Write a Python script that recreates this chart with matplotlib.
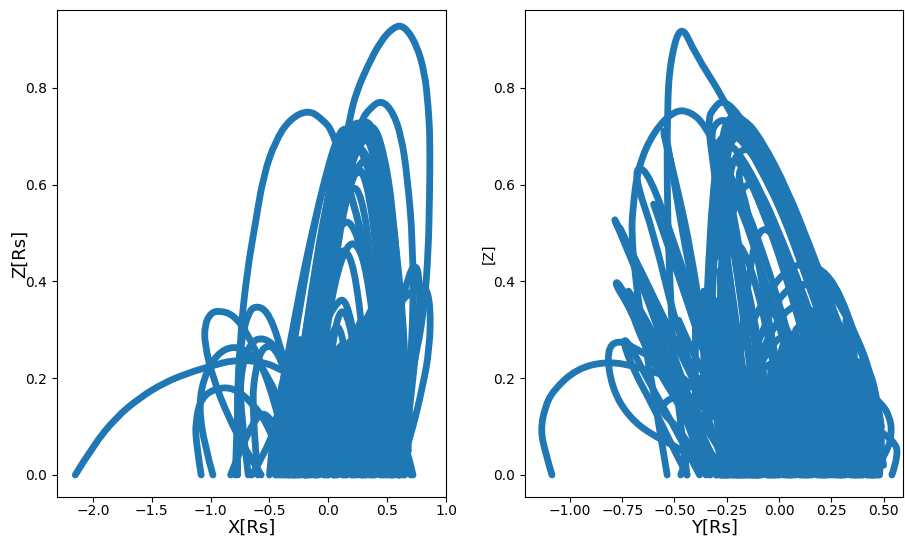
import matplotlib
matplotlib.use('Agg')
import matplotlib.pyplot as plt
from matplotlib.path import Path
from matplotlib.patches import PathPatch

#-------------------------------------------------------------------------------
#INPUT

#field lines, left panel: X[Rs] against Z[Rs]
left_x = [
    [-0.45,-0.3,-0.2,-0.1,0.0,0.1,0.19,0.245,0.33,0.44,0.55,0.64,0.75,0.82,0.85,0.865,0.86,0.85,0.82,0.76,0.65,0.5],
    [-2.15,-2.0,-1.8,-1.6,-1.4,-1.2,-1.0,-0.8,-0.6,-0.45,-0.35],
    [-0.79,-0.77,-0.75,-0.69,-0.62,-0.55,-0.45,-0.33,-0.17,-0.05,0.04,0.2,0.35,0.5,0.58],
    [-0.3,-0.15,0.0,0.12,0.27,0.36,0.455,0.55,0.62,0.67,0.72,0.72,0.68],
    [-0.35,-0.2,-0.05,0.05,0.15,0.22,0.32,0.42,0.5,0.56,0.6,0.6],
    [-0.3,-0.15,0.0,0.1,0.2,0.32,0.42,0.5,0.58,0.64,0.65],
    [-0.25,-0.1,0.02,0.12,0.25,0.38,0.47,0.55,0.62,0.66,0.64],
    [-0.22,-0.08,0.05,0.15,0.25,0.35,0.45,0.52,0.58,0.6,0.58],
    [-0.2,-0.05,0.08,0.18,0.3,0.4,0.47,0.53,0.56,0.54],
    [-0.28,-0.15,-0.02,0.1,0.2,0.3,0.4,0.48,0.53,0.55],
    [-0.38,-0.25,-0.1,0.0,0.05,0.12,0.22,0.32,0.42,0.5,0.54],
    [-0.3,-0.2,-0.1,0.0,0.1,0.2,0.3,0.38,0.44,0.47],
    [-0.15,-0.03,0.08,0.2,0.3,0.38,0.46,0.5,0.5],
    [-0.33,-0.22,-0.1,0.0,0.06,0.14,0.22,0.3,0.35,0.37],
    [-0.38,-0.3,-0.18,-0.05,0.05,0.15,0.25,0.3,0.32],
    [0.2,0.3,0.42,0.55,0.66,0.75,0.82,0.87,0.86,0.8,0.7,0.6],
    [0.3,0.42,0.55,0.62,0.68,0.73,0.77,0.78,0.72,0.65],
    [-0.1,-0.03,0.05,0.12,0.2,0.25,0.28],
    [-0.2,-0.1,0.0,0.07,0.14,0.22,0.26],
    [-0.98,-1.05,-1.1,-1.06,-0.95,-0.8,-0.65,-0.5,-0.4,-0.33,-0.28],
    [-1.08,-1.12,-1.13,-1.08,-0.95,-0.8,-0.65,-0.5,-0.38],
    [-0.57,-0.7,-0.85,-0.98,-1.05,-1.05,-1.0,-0.92,-0.8,-0.68,-0.55,-0.42,-0.3],
    [-0.77,-0.78,-0.74,-0.68,-0.62,-0.52,-0.42,-0.32,-0.25,-0.18],
    [-0.68,-0.75,-0.74,-0.66,-0.55,-0.42,-0.3,-0.2,-0.12],
    [-0.6,-0.65,-0.62,-0.55,-0.43,-0.3,-0.22,-0.15],
    [-0.83,-0.7,-0.58,-0.5,-0.4,-0.3,-0.2],
    [-0.65,-0.55,-0.45,-0.3,-0.2,-0.1,0.0],
    [-0.32,-0.2,-0.08,0.02,0.1,0.18,0.26,0.34,0.42,0.5,0.56,0.6,0.62],
    [-0.28,-0.16,-0.05,0.05,0.13,0.22,0.3,0.38,0.46,0.52,0.57,0.59],
    [-0.25,-0.12,-0.01,0.08,0.16,0.25,0.34,0.42,0.48,0.53,0.55],
    [-0.18,-0.08,0.02,0.1,0.18,0.27,0.35,0.42,0.47,0.5],
    [-0.14,-0.05,0.04,0.12,0.2,0.28,0.36,0.42,0.46],
    [-0.34,-0.22,-0.1,0.0,0.08,0.14,0.22,0.3,0.38,0.5,0.6],
    [-0.38,-0.26,-0.14,-0.04,0.05,0.14,0.24,0.38,0.52,0.62],
    [0.22,0.3,0.38,0.46,0.52,0.58,0.63,0.66,0.68],
    [0.28,0.36,0.44,0.5,0.56,0.6,0.64,0.66],
    [0.3,0.4,0.47,0.53,0.58,0.62,0.64],
    [0.05,0.15,0.25,0.35,0.45,0.55,0.62,0.68,0.7,0.6],
    [0.35,0.48,0.55,0.6,0.66,0.72],
]
left_z = [
    [0.0,0.06,0.2,0.35,0.5,0.63,0.748,0.795,0.843,0.895,0.925,0.93,0.89,0.83,0.76,0.69,0.57,0.465,0.36,0.26,0.155,0.0],
    [0.0,0.06,0.12,0.16,0.19,0.21,0.225,0.238,0.235,0.225,0.21],
    [0.0,0.14,0.285,0.42,0.52,0.62,0.69,0.735,0.755,0.735,0.71,0.58,0.42,0.22,0.04],
    [0.0,0.2,0.42,0.58,0.73,0.76,0.775,0.75,0.7,0.62,0.48,0.3,0.15],
    [0.0,0.2,0.42,0.56,0.68,0.72,0.735,0.7,0.6,0.45,0.2,0.0],
    [0.0,0.2,0.45,0.58,0.68,0.73,0.7,0.6,0.42,0.2,0.0],
    [0.0,0.22,0.45,0.6,0.7,0.73,0.67,0.55,0.32,0.1,0.0],
    [0.0,0.25,0.48,0.6,0.68,0.7,0.63,0.5,0.32,0.1,0.0],
    [0.0,0.25,0.48,0.6,0.66,0.63,0.54,0.38,0.2,0.0],
    [0.0,0.2,0.42,0.56,0.62,0.63,0.58,0.42,0.22,0.05],
    [0.0,0.2,0.45,0.58,0.63,0.62,0.56,0.46,0.3,0.15,0.0],
    [0.0,0.15,0.33,0.44,0.52,0.525,0.45,0.33,0.18,0.02],
    [0.05,0.28,0.43,0.49,0.45,0.36,0.2,0.08,0.0],
    [0.0,0.15,0.3,0.39,0.45,0.47,0.43,0.28,0.12,0.0],
    [0.0,0.1,0.22,0.3,0.35,0.37,0.25,0.1,0.0],
    [0.0,0.1,0.22,0.34,0.37,0.385,0.395,0.35,0.26,0.18,0.08,0.0],
    [0.0,0.14,0.28,0.35,0.41,0.435,0.42,0.34,0.2,0.05],
    [0.0,0.14,0.3,0.35,0.3,0.18,0.0],
    [0.0,0.14,0.26,0.32,0.27,0.12,0.0],
    [0.0,0.06,0.14,0.2,0.25,0.268,0.25,0.2,0.14,0.06,0.0],
    [0.0,0.06,0.11,0.16,0.18,0.18,0.15,0.1,0.02],
    [0.0,0.05,0.12,0.2,0.27,0.31,0.335,0.34,0.33,0.29,0.22,0.12,0.0],
    [0.0,0.16,0.28,0.335,0.35,0.34,0.28,0.18,0.08,0.0],
    [0.0,0.14,0.22,0.275,0.285,0.26,0.18,0.08,0.0],
    [0.0,0.14,0.22,0.27,0.26,0.16,0.07,0.0],
    [0.0,0.08,0.13,0.12,0.08,0.04,0.0],
    [0.0,0.04,0.1,0.16,0.13,0.06,0.0],
    [0.1,0.28,0.47,0.6,0.68,0.72,0.73,0.72,0.67,0.55,0.38,0.2,0.05],
    [0.1,0.3,0.48,0.6,0.67,0.71,0.71,0.67,0.56,0.42,0.22,0.05],
    [0.1,0.33,0.5,0.61,0.66,0.68,0.65,0.54,0.42,0.24,0.05],
    [0.14,0.33,0.5,0.59,0.63,0.64,0.58,0.44,0.28,0.08],
    [0.14,0.34,0.48,0.56,0.6,0.58,0.46,0.28,0.08],
    [0.2,0.38,0.54,0.64,0.7,0.72,0.7,0.66,0.6,0.42,0.15],
    [0.2,0.36,0.5,0.6,0.66,0.68,0.69,0.64,0.44,0.15],
    [0.72,0.735,0.72,0.66,0.58,0.46,0.34,0.2,0.05],
    [0.72,0.72,0.65,0.56,0.44,0.34,0.2,0.05],
    [0.7,0.69,0.6,0.48,0.34,0.2,0.05],
    [0.0,0.1,0.2,0.27,0.28,0.26,0.22,0.16,0.08,0.0],
    [0.0,0.06,0.1,0.1,0.06,0.0],
]

#field lines, right panel: Y[Rs] against Z
right_y = [
    [-0.44,-0.5,-0.52,-0.535,-0.535,-0.52,-0.47,-0.4,-0.268,-0.15,0.0,0.12,0.25,0.35,0.42],
    [-0.535,-0.6,-0.66,-0.69,-0.705,-0.70,-0.675,-0.6,-0.497,-0.42,-0.354,-0.27,-0.15,0.0,0.1,0.25],
    [-0.25,-0.4,-0.5,-0.6,-0.68,-0.68,-0.62,-0.5,-0.35,-0.2,-0.1],
    [-0.3,-0.4,-0.5,-0.555,-0.545,-0.5,-0.42,-0.3,-0.2],
    [-0.15,-0.25,-0.3,-0.344,-0.31,-0.268,-0.2,-0.1,0.0,0.1,0.22,0.354,0.45,0.49],
    [-0.1,-0.2,-0.28,-0.33,-0.3,-0.25,-0.17,-0.05,0.08,0.2,0.32,0.42,0.47],
    [-0.05,-0.15,-0.25,-0.3,-0.27,-0.22,-0.12,0.0,0.12,0.25,0.38,0.44],
    [-0.1,-0.18,-0.25,-0.28,-0.25,-0.18,-0.08,0.05,0.18,0.3,0.4],
    [-0.05,-0.15,-0.22,-0.26,-0.22,-0.15,-0.05,0.05,0.15,0.26,0.35],
    [0.0,-0.08,-0.15,-0.2,-0.17,-0.08,0.02,0.12,0.22,0.3],
    [0.0,-0.1,-0.2,-0.28,-0.3,-0.26,-0.18,-0.08,0.02,0.12,0.22],
    [-0.33,-0.4,-0.5,-0.6,-0.7,-0.785],
    [-0.3,-0.38,-0.48,-0.58,-0.68,-0.77,-0.785],
    [-0.35,-0.43,-0.52,-0.62,-0.72,-0.785,-0.77,-0.68,-0.58,-0.48,-0.38,-0.3],
    [-0.28,-0.36,-0.44,-0.55,-0.65,-0.74,-0.78,-0.7,-0.6,-0.5,-0.42],
    [-0.1,-0.2,-0.34,-0.45,-0.6,-0.72,-0.8,-0.825,-0.77,-0.68,-0.58,-0.48,-0.35],
    [-1.086,-1.12,-1.14,-1.12,-1.08,-0.967,-0.82,-0.68,-0.507,-0.4,-0.3,-0.2],
    [-0.33,-0.41,-0.488,-0.55,-0.565,-0.52,-0.45,-0.35,-0.25,-0.12],
    [-0.26,-0.33,-0.45,-0.56,-0.68,-0.74,-0.66,-0.55,-0.43,-0.3,-0.2,-0.1],
    [-0.44,-0.5,-0.6,-0.7,-0.75,-0.72,-0.62,-0.5,-0.38],
    [0.54,0.575,0.545,0.45,0.35,0.2,0.1],
    [0.45,0.52,0.54,0.53,0.49,0.4,0.3,0.15],
    [-0.3,-0.26,-0.17,-0.05,0.05,0.15,0.27,0.38,0.46,0.5,0.48],
    [-0.25,-0.2,-0.1,0.0,0.1,0.2,0.3,0.37,0.43,0.45],
    [-0.22,-0.15,-0.05,0.05,0.15,0.25,0.33,0.4,0.43],
    [-0.32,-0.28,-0.234,-0.17,-0.1,-0.05,0.02,0.1],
    [-0.05,0.02,0.1,0.2,0.3,0.4,0.45,0.48,0.47],
    [-0.13,-0.06,0.03,0.13,0.22,0.3,0.36,0.42],
    [-0.22,-0.18,-0.1,-0.02,0.08,0.18,0.25,0.3],
    [-0.3,-0.27,-0.22,-0.15,-0.05,0.05,0.15,0.25,0.33,0.4,0.46],
    [-0.32,-0.28,-0.22,-0.14,-0.04,0.07,0.17,0.27,0.36,0.42],
    [-0.3,-0.26,-0.2,-0.12,-0.02,0.1,0.2,0.3,0.38],
    [-0.28,-0.25,-0.18,-0.1,0.0,0.12,0.22,0.32,0.4],
    [-0.33,-0.3,-0.24,-0.17,-0.08,0.04,0.16,0.28,0.38,0.46],
    [-0.36,-0.33,-0.28,-0.22,-0.14,-0.02,0.1,0.24,0.36,0.44],
    [-0.3,-0.25,-0.18,-0.1,0.0,0.1,0.2,0.3],
    [-0.2,-0.14,-0.08,0.0,0.1,0.2,0.28],
    [-0.78,-0.68,-0.58,-0.5,-0.42,-0.34],
    [-0.76,-0.66,-0.56,-0.46,-0.38],
    [-0.6,-0.52,-0.44,-0.36,-0.28],
    [-0.55,-0.47,-0.4,-0.32,-0.24],
    [-0.75,-0.65,-0.55,-0.45,-0.38],
    [-0.72,-0.62,-0.52,-0.44,-0.36],
    [-0.5,-0.44,-0.38,-0.32,-0.26],
    [-0.48,-0.42,-0.35,-0.28,-0.22],
    [-0.45,-0.38,-0.32,-0.26,-0.2],
    [-0.47,-0.43,-0.38,-0.33,-0.28],
]
right_z = [
    [0.0,0.2,0.38,0.55,0.76,0.857,0.935,0.87,0.78,0.68,0.56,0.42,0.26,0.13,0.05],
    [0.0,0.17,0.32,0.42,0.5,0.548,0.636,0.71,0.755,0.75,0.723,0.65,0.55,0.36,0.2,0.0],
    [0.0,0.2,0.32,0.5,0.6,0.64,0.62,0.48,0.28,0.1,0.0],
    [0.12,0.42,0.62,0.707,0.715,0.6,0.4,0.2,0.05],
    [0.0,0.35,0.6,0.733,0.76,0.775,0.75,0.68,0.58,0.5,0.4,0.306,0.2,0.1],
    [0.0,0.3,0.55,0.7,0.73,0.735,0.7,0.62,0.5,0.4,0.28,0.15,0.02],
    [0.0,0.28,0.55,0.68,0.7,0.71,0.66,0.58,0.46,0.33,0.15,0.02],
    [0.1,0.35,0.58,0.65,0.69,0.66,0.58,0.45,0.3,0.15,0.0],
    [0.1,0.36,0.55,0.62,0.66,0.62,0.52,0.4,0.25,0.1,0.0],
    [0.2,0.4,0.55,0.62,0.64,0.55,0.43,0.28,0.15,0.02],
    [0.0,0.3,0.47,0.55,0.6,0.62,0.55,0.42,0.28,0.14,0.0],
    [0.0,0.08,0.2,0.33,0.44,0.527],
    [0.0,0.1,0.22,0.34,0.44,0.515,0.527],
    [0.0,0.1,0.2,0.28,0.35,0.395,0.4,0.33,0.25,0.17,0.08,0.0],
    [0.0,0.08,0.15,0.23,0.31,0.37,0.4,0.33,0.25,0.16,0.1],
    [0.0,0.0,0.0,0.05,0.08,0.12,0.18,0.258,0.28,0.26,0.235,0.21,0.16],
    [0.0,0.05,0.093,0.14,0.175,0.22,0.235,0.224,0.2,0.18,0.14,0.08],
    [0.0,0.05,0.1,0.125,0.14,0.16,0.16,0.15,0.12,0.04],
    [0.0,0.05,0.13,0.2,0.3,0.395,0.34,0.25,0.16,0.06,0.0,0.0],
    [0.0,0.05,0.14,0.22,0.28,0.275,0.19,0.1,0.0],
    [0.0,0.045,0.072,0.1,0.11,0.14,0.16],
    [0.0,0.05,0.087,0.12,0.149,0.18,0.2,0.22],
    [0.0,0.15,0.28,0.38,0.43,0.44,0.4,0.27,0.17,0.08,0.0],
    [0.0,0.14,0.28,0.37,0.4,0.38,0.3,0.2,0.1,0.0],
    [0.05,0.18,0.29,0.35,0.35,0.28,0.17,0.06,0.0],
    [0.2,0.38,0.49,0.47,0.38,0.28,0.12,0.0],
    [0.0,0.14,0.2,0.23,0.24,0.235,0.2,0.12,0.02],
    [0.0,0.12,0.2,0.24,0.24,0.2,0.12,0.0],
    [0.0,0.14,0.22,0.28,0.3,0.22,0.12,0.0],
    [0.6,0.72,0.745,0.73,0.65,0.55,0.43,0.32,0.22,0.12,0.02],
    [0.5,0.68,0.735,0.72,0.63,0.52,0.4,0.27,0.14,0.02],
    [0.45,0.66,0.71,0.68,0.6,0.47,0.34,0.2,0.04],
    [0.4,0.62,0.68,0.66,0.58,0.44,0.32,0.16,0.02],
    [0.25,0.6,0.72,0.74,0.69,0.59,0.46,0.32,0.18,0.05],
    [0.2,0.55,0.69,0.73,0.71,0.62,0.5,0.34,0.18,0.04],
    [0.2,0.5,0.6,0.6,0.5,0.38,0.25,0.08],
    [0.2,0.45,0.52,0.48,0.36,0.22,0.08],
    [0.52,0.44,0.35,0.28,0.22,0.14],
    [0.51,0.42,0.33,0.24,0.17],
    [0.56,0.46,0.36,0.26,0.18],
    [0.5,0.4,0.32,0.22,0.14],
    [0.38,0.28,0.2,0.12,0.06],
    [0.38,0.29,0.21,0.14,0.05],
    [0.44,0.36,0.28,0.2,0.12],
    [0.32,0.26,0.2,0.15,0.08],
    [0.18,0.12,0.08,0.04,0.0],
    [0.0,0.05,0.1,0.16,0.2],
]

#tangle of short lines near the surface, read as up and down strands
left_fill_x = [-0.5,-0.48,-0.44,-0.44,-0.4,-0.4,-0.36,-0.36,-0.32,-0.32,-0.28,-0.28,-0.24,-0.24,-0.2,-0.2,-0.16,-0.16,-0.12,-0.12,-0.08,-0.08,-0.04,-0.04,0.0,0.0,0.04,0.04,0.08,0.08,0.12,0.12,0.16,0.16,0.2,0.2,0.24,0.24,0.28,0.28,0.32,0.32,0.36,0.36,0.4,0.4,0.44,0.44,0.48,0.48,0.52,0.52,0.56,0.56,0.6,0.6,0.62,0.62,0.66,0.7]
left_fill_z = [0.0,0.05,0.12,0.0,0.0,0.18,0.22,0.0,0.0,0.25,0.28,0.0,0.0,0.28,0.26,0.0,0.0,0.24,0.24,0.0,0.0,0.24,0.24,0.0,0.0,0.24,0.24,0.0,0.0,0.26,0.27,0.0,0.0,0.27,0.28,0.0,0.0,0.3,0.32,0.0,0.0,0.32,0.34,0.0,0.0,0.34,0.34,0.0,0.0,0.34,0.32,0.0,0.0,0.28,0.24,0.0,0.0,0.16,0.06,0.0]
right_fill_y = [-0.42,-0.38,-0.38,-0.34,-0.34,-0.3,-0.3,-0.26,-0.26,-0.22,-0.22,-0.18,-0.18,-0.14,-0.14,-0.1,-0.1,-0.06,-0.06,-0.02,-0.02,0.02,0.02,0.06,0.06,0.1,0.1,0.14,0.14,0.18,0.18,0.22,0.22,0.26,0.26,0.3,0.3,0.34,0.34,0.38,0.38,0.42,0.42,0.46,0.46,0.5]
right_fill_z = [0.12,0.2,0.14,0.14,0.3,0.36,0.12,0.02,0.38,0.3,0.0,0.0,0.2,0.18,0.0,0.0,0.2,0.2,0.0,0.0,0.22,0.25,0.0,0.0,0.28,0.28,0.0,0.0,0.28,0.28,0.0,0.0,0.3,0.27,0.0,0.0,0.24,0.24,0.0,0.0,0.22,0.2,0.0,0.0,0.14,0.02]
right_fill2_y = [-0.4,-0.4,-0.36,-0.36,-0.32,-0.32,-0.28,-0.28,-0.24,-0.24,-0.2,-0.2,-0.16,-0.16,-0.12,-0.12,-0.08,-0.08,-0.04,-0.04,0.0,0.0,0.04,0.04,0.08,0.08,0.12,0.12,0.16,0.16,0.2,0.2,0.24,0.24,0.28,0.28,0.32,0.32,0.36,0.36,0.4,0.4,0.44,0.44,0.48,0.48]
right_fill2_z = [0.12,0.3,0.38,0.14,0.12,0.42,0.42,0.0,0.0,0.35,0.22,0.0,0.0,0.2,0.2,0.0,0.0,0.22,0.23,0.0,0.0,0.24,0.3,0.0,0.0,0.3,0.32,0.0,0.0,0.33,0.36,0.0,0.0,0.3,0.28,0.0,0.0,0.32,0.26,0.0,0.0,0.22,0.18,0.0,0.0,0.08]

yticks = [0.0, 0.2, 0.4, 0.6, 0.8]
left_xticks = [-2.0, -1.5, -1.0, -0.5, 0.0, 0.5, 1.0]
right_xticks = [-1.0, -0.75, -0.5, -0.25, 0.0, 0.25, 0.5]

#-------------------------------------------------------------------------------
#FUNCTIONS

def draw_line(ax, xs, zs):
    #the read points steer the curve, midpoints keep it round
    pts = list(zip(xs, zs))
    verts = [pts[0]]
    codes = [Path.MOVETO]
    for i in range(1, len(pts) - 2):
        mid = ((pts[i][0] + pts[i+1][0])/2, (pts[i][1] + pts[i+1][1])/2)
        verts += [pts[i], mid]
        codes += [Path.CURVE3, Path.CURVE3]
    verts += [pts[-2], pts[-1]]
    codes += [Path.CURVE3, Path.CURVE3]
    ax.add_patch(PathPatch(Path(verts, codes), fill=False, edgecolor='#1f77b4', lw=4.9,
                           capstyle='round', joinstyle='round'))

#-------------------------------------------------------------------------------
#MAIN

W, H = 905., 538.
fig = plt.figure(figsize=(W/100, H/100), dpi=100)
axa = fig.add_axes([57/W, 1 - 497/H, 389/W, 487/H])
axb = fig.add_axes([525/W, 1 - 497/H, 378/W, 487/H])

for x, z in zip(left_x, left_z):
    draw_line(axa, x, z)
for y, z in zip(right_y, right_z):
    draw_line(axb, y, z)
axa.plot(left_fill_x, left_fill_z, color='#1f77b4', lw=4.9, solid_capstyle='round')
axb.plot(right_fill_y, right_fill_z, color='#1f77b4', lw=4.9, solid_capstyle='round')
axb.plot(right_fill2_y, right_fill2_z, color='#1f77b4', lw=4.9, solid_capstyle='round')

axa.set_xlim(-2.305, 1.0)
axb.set_xlim(-1.215, 0.593)
for ax in (axa, axb):
    ax.set_ylim(-0.0455, 0.961)
    ax.set_yticks(yticks)
    ax.tick_params(axis='x', pad=1.5)

axa.set_xticks(left_xticks)
axb.set_xticks(right_xticks)

axa.set_xlabel('X[Rs]', fontsize=13)
axa.set_ylabel('Z[Rs]', fontsize=13)
axb.set_xlabel('Y[Rs]', fontsize=13)
axb.set_ylabel('[Z]')
axa.xaxis.set_label_coords(0.5, -0.045)
axb.xaxis.set_label_coords(0.5, -0.045)
axa.yaxis.set_label_coords(-0.072, 0.5)
axb.yaxis.set_label_coords(-0.078, 0.5)

fig.savefig('out.png', dpi=100)
